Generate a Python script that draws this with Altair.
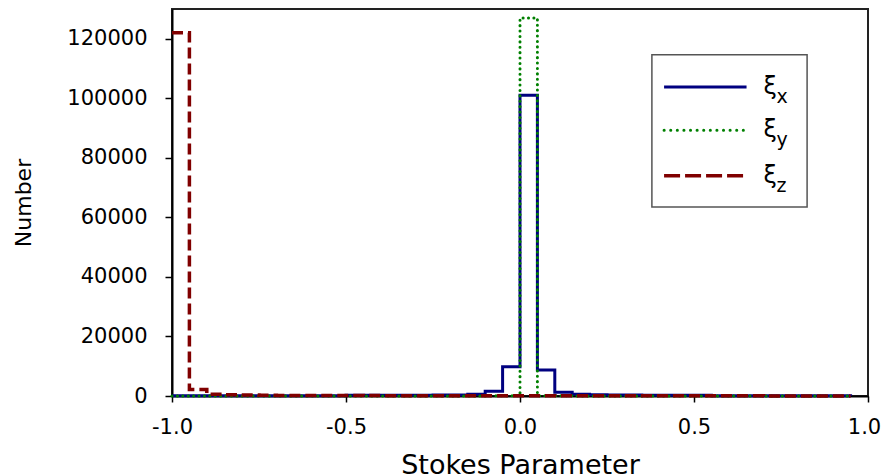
import altair as alt
import pandas as pd

# bin left edges of the Stokes-parameter histogram
edges = [-1.0, -0.95, -0.9, -0.85, -0.8, -0.75, -0.7, -0.65, -0.6, -0.55,
         -0.5, -0.45, -0.4, -0.35, -0.3, -0.25, -0.2, -0.15, -0.1, -0.05,
         0.0, 0.05, 0.1, 0.15, 0.2, 0.25, 0.3, 0.35, 0.4, 0.45,
         0.5, 0.55, 0.6, 0.65, 0.7, 0.75, 0.8, 0.85, 0.9, 0.95]

xi_x = [60, 60, 70, 70, 80, 80, 90, 90, 100, 110,
        250, 250, 260, 270, 280, 300, 330, 600, 1600, 9850,
        101000, 8700, 1250, 550, 380, 320, 300, 280, 270, 260,
        250, 110, 100, 90, 90, 80, 80, 70, 70, 60]

xi_y = [40, 40, 40, 40, 40, 40, 40, 40, 40, 40,
        40, 40, 40, 40, 40, 40, 40, 40, 50, 100,
        127000, 100, 50, 40, 40, 40, 40, 40, 40, 40,
        40, 40, 40, 40, 40, 40, 40, 40, 40, 40]

xi_z = [122000, 2200, 600, 400, 300, 250, 200, 180, 160, 150,
        140, 130, 120, 110, 100, 95, 90, 85, 80, 75,
        70, 70, 65, 65, 60, 60, 55, 55, 50, 50,
        50, 45, 45, 45, 40, 40, 40, 40, 40, 40]

y_ticks = [0, 20000, 40000, 60000, 80000, 100000, 120000]
x_ticks = [-1.0, -0.5, 0.0, 0.5, 1.0]

# legend contents (placed in data units)
leg_sub = ["x", "y", "z"]
leg_y = [103800, 89300, 74000]
leg_line_x = [0.414, 0.651]
leg_text_x = 0.700
leg_box_x = [0.379, 0.825]
leg_box_y = [63500, 114600]

FONT = "DejaVu Sans"

df_x = pd.DataFrame({"edge": edges, "count": xi_x})
df_y = pd.DataFrame({"edge": edges, "count": xi_y})
df_z = pd.DataFrame({"edge": edges, "count": xi_z})

xscale = alt.Scale(domain=[-1, 1], nice=False, zero=False, padding=0)
yscale = alt.Scale(domain=[0, 130000], nice=False, padding=0)

xaxis = alt.Axis(values=x_ticks, title="Stokes Parameter", grid=False,
                 labelExpr="datum.value < 0 ? '-' + format(-datum.value, '.1f') : format(datum.value, '.1f')",
                 labelFlush=False, labelOverlap=False,
                 labelOffset={"condition": {"test": "datum.value >= 1", "value": -4}, "value": 0},
                 tickSize=6, labelPadding=14, titleY=77, titleBaseline="alphabetic")
yaxis = alt.Axis(values=y_ticks, format="d", title="Number", grid=False,
                 labelFlush=False, labelOverlap=False,
                 tickSize=7, labelPadding=18, titleX=-149, titleY=193.5,
                 titleBaseline="middle", titleAlign="center")

def X(field):
    return alt.X(field, type="quantitative", scale=xscale, axis=xaxis, title="Stokes Parameter")

def Y(field):
    return alt.Y(field, type="quantitative", scale=yscale, axis=yaxis, title="Number")

line_x = alt.Chart(df_x).mark_line(interpolate="step-after", color="#000080",
                                   strokeWidth=3).encode(x=X("edge"), y=Y("count"))
line_y = alt.Chart(df_y).mark_line(interpolate="step-after", color="#008000",
                                   strokeWidth=3, strokeDash=[0.1, 5.3],
                                   strokeCap="round").encode(x=X("edge"), y=Y("count"))
line_z = alt.Chart(df_z).mark_line(interpolate="step-after", color="#800000",
                                   strokeWidth=3.5, strokeDash=[11, 5]).encode(x=X("edge"), y=Y("count"))

box_df = pd.DataFrame({"edge": [leg_box_x[0]], "edge2": [leg_box_x[1]],
                       "count": [leg_box_y[0]], "count2": [leg_box_y[1]]})
box = alt.Chart(box_df).mark_rect(fill="white", stroke="#555555", strokeWidth=1.5).encode(
    x=X("edge"), x2="edge2", y=Y("count"), y2="count2")

def leg_rule(i, color, width, dash=None, cap="butt"):
    d = pd.DataFrame({"edge": [leg_line_x[0]], "edge2": [leg_line_x[1]], "count": [leg_y[i]]})
    kw = dict(color=color, strokeWidth=width, strokeCap=cap)
    if dash is not None:
        kw["strokeDash"] = dash
    return alt.Chart(d).mark_rule(**kw).encode(x=X("edge"), x2="edge2", y=Y("count"))

r1 = leg_rule(0, "#000080", 3)
r2 = leg_rule(1, "#008000", 3, [0.1, 6.5], "round")
r3 = leg_rule(2, "#800000", 3.5, [16, 5])

txt_df = pd.DataFrame({"edge": [leg_text_x] * 3, "count": leg_y,
                       "xi": ["ξ"] * 3, "sub": leg_sub})
xi_txt = alt.Chart(txt_df).mark_text(align="left", baseline="middle", fontSize=24,
                                     font=FONT, color="black").encode(
    x=X("edge"), y=Y("count"), text="xi:N")
sub_txt = alt.Chart(txt_df).mark_text(align="left", baseline="middle", fontSize=19,
                                      font=FONT, color="black", dx=13, dy=10).encode(
    x=X("edge"), y=Y("count"), text="sub:N")

chart = alt.layer(line_x, line_y, line_z, box, r1, r2, r3, xi_txt, sub_txt).properties(
    width=696, height=387,
    autosize=alt.AutoSizeParams(type="none"),
    padding={"left": 164, "top": 1, "right": 13, "bottom": 82},
).configure_view(
    stroke="#222222", strokeWidth=2
).configure_axis(
    domainColor="black", domainWidth=2, tickColor="black", tickWidth=1.5,
    labelFont=FONT, labelFontSize=21, labelColor="black",
    titleFont=FONT, titleFontWeight="normal", titleColor="black",
).configure_axisX(
    titleFontSize=27
).configure_axisY(
    titleFontSize=22
)

chart.save("out.html", embed_options={"renderer": "svg", "actions": False})
